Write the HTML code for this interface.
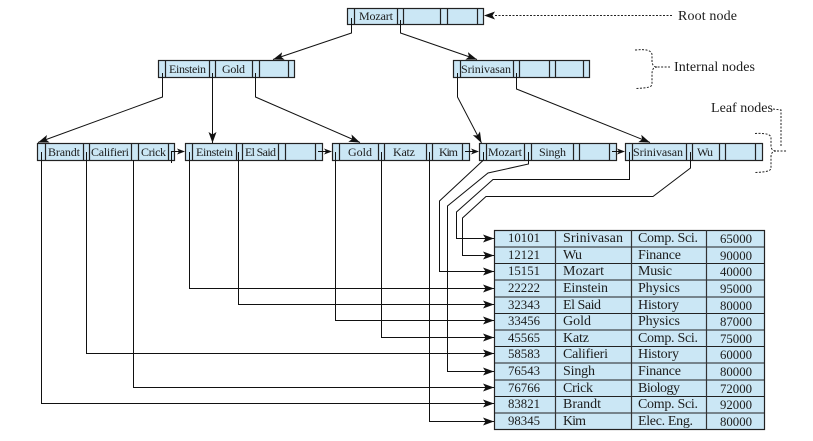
<!DOCTYPE html>
<html><head><meta charset="utf-8">
<style>
html,body{margin:0;padding:0;background:#fff}
svg{display:block}
text{font-family:"Liberation Serif",serif;fill:#1c1c1c}
.n rect{fill:#cbe7f5;stroke:#222;stroke-width:1.2}
.n text{font-size:12px}
.c{fill:none;stroke:#111;stroke-width:1}
.d{fill:none;stroke:#222;stroke-width:1;stroke-dasharray:2 1.5}
.t text{font-size:14px}
.t text.a{text-anchor:middle;font-size:12.8px}
.l text{font-size:14px}
</style></head><body>
<svg width="813" height="441" viewBox="0 0 813 441" xmlns="http://www.w3.org/2000/svg">
<defs>
<marker id="b" markerUnits="userSpaceOnUse" markerWidth="12" markerHeight="9" refX="11" refY="4" orient="auto"><path d="M0,0 L11,4 L0,8 L2.5,4z" fill="#111"/></marker>
</defs>

<!-- table -->
<g class="t">
<rect x="494.500" y="230.500" width="270" height="199" fill="#cbe7f5" stroke="#222" stroke-width="1.2"/>
<path d="M494.500 247H764.500M494.500 263.500H764.500M494.500 280H764.500M494.500 297H764.500M494.500 313.500H764.500M494.500 330H764.500M494.500 346.500H764.500M494.500 363H764.500M494.500 380H764.500M494.500 396.500H764.500M494.500 413H764.500" stroke="#222" fill="none"/>
<path d="M555.500 230V430M631.500 230V430M706.500 230V430" stroke="#333" fill="none" stroke-width="1.2"/>
<text class="a" x="524" y="242">10101</text><text x="563" y="242" textLength="60">Srinivasan</text><text x="638" y="242" textLength="60">Comp. Sci.</text><text class="a" x="736" y="243">65000</text>
<text class="a" x="524" y="259">12121</text><text x="563" y="259" textLength="19">Wu</text><text x="638" y="259" textLength="43">Finance</text><text class="a" x="736" y="260">90000</text>
<text class="a" x="524" y="275">15151</text><text x="563" y="275" textLength="41">Mozart</text><text x="638" y="275" textLength="34">Music</text><text class="a" x="736" y="276">40000</text>
<text class="a" x="524" y="292">22222</text><text x="563" y="292" textLength="45">Einstein</text><text x="638" y="292" textLength="42">Physics</text><text class="a" x="736" y="293">95000</text>
<text class="a" x="524" y="309">32343</text><text x="563" y="309" textLength="38">El Said</text><text x="638" y="309" textLength="41">History</text><text class="a" x="736" y="310">80000</text>
<text class="a" x="524" y="325">33456</text><text x="563" y="325" textLength="28">Gold</text><text x="638" y="325" textLength="42">Physics</text><text class="a" x="736" y="326">87000</text>
<text class="a" x="524" y="342">45565</text><text x="563" y="342" textLength="26">Katz</text><text x="638" y="342" textLength="60">Comp. Sci.</text><text class="a" x="736" y="343">75000</text>
<text class="a" x="524" y="358">58583</text><text x="563" y="358" textLength="45">Califieri</text><text x="638" y="358" textLength="41">History</text><text class="a" x="736" y="359">60000</text>
<text class="a" x="524" y="375">76543</text><text x="563" y="375" textLength="32">Singh</text><text x="638" y="375" textLength="43">Finance</text><text class="a" x="736" y="376">80000</text>
<text class="a" x="524" y="392">76766</text><text x="563" y="392" textLength="30">Crick</text><text x="638" y="392" textLength="42">Biology</text><text class="a" x="736" y="393">72000</text>
<text class="a" x="524" y="408">83821</text><text x="563" y="408" textLength="38">Brandt</text><text x="638" y="408" textLength="60">Comp. Sci.</text><text class="a" x="736" y="409">92000</text>
<text class="a" x="524" y="425">98345</text><text x="563" y="425" textLength="23">Kim</text><text x="638" y="425" textLength="55">Elec. Eng.</text><text class="a" x="736" y="426">80000</text>
</g>

<!-- nodes -->
<g class="n">
<rect x="347.500" y="8.500" width="136" height="16"/>
<path d="M354.500 8V24M397.500 8V24M403.500 8V24M440.500 8V24M447.500 8V24M477.500 8V24" stroke="#222" stroke-width="1.2" fill="none"/>
<text x="359" y="20" textLength="34">Mozart</text>

<rect x="158.500" y="60.500" width="136" height="17"/>
<path d="M165.500 60V77M209.500 60V77M215.500 60V77M252.500 60V77M259.500 60V77M288.500 60V77" stroke="#222" stroke-width="1.2" fill="none"/>
<text x="169" y="73" textLength="37">Einstein</text><text x="222" y="73" textLength="23">Gold</text>

<rect x="453.500" y="60.500" width="136" height="17"/>
<path d="M460.500 60V77M513.500 60V77M519.500 60V77M549.500 60V77M555.500 60V77M583.500 60V77" stroke="#222" stroke-width="1.2" fill="none"/>
<text x="461" y="73" textLength="50">Srinivasan</text>

<rect x="37.500" y="143.500" width="137" height="17"/>
<path d="M45.500 143V160M83.500 143V160M89.500 143V160M131.500 143V160M138.500 143V160M168.500 143V160" stroke="#222" stroke-width="1.2" fill="none"/>
<text x="48" y="156" textLength="32">Brandt</text><text x="91" y="156" textLength="38">Califieri</text><text x="141" y="156" textLength="25">Crick</text>

<rect x="185.500" y="143.500" width="137" height="17"/>
<path d="M192.500 143V160M236.500 143V160M242.500 143V160M278.500 143V160M285.500 143V160M315.500 143V160" stroke="#222" stroke-width="1.2" fill="none"/>
<text x="196" y="156" textLength="37">Einstein</text><text x="245" y="156" textLength="31">El Said</text>

<rect x="332.500" y="143.500" width="137" height="17"/>
<path d="M339.500 143V160M378.500 143V160M384.500 143V160M426.500 143V160M432.500 143V160M462.500 143V160" stroke="#222" stroke-width="1.2" fill="none"/>
<text x="348" y="156" textLength="24">Gold</text><text x="393" y="156" textLength="22">Katz</text><text x="439" y="156" textLength="19">Kim</text>

<rect x="479.500" y="143.500" width="137" height="17"/>
<path d="M486.500 143V160M524.500 143V160M531.500 143V160M573.500 143V160M579.500 143V160M609.500 143V160" stroke="#222" stroke-width="1.2" fill="none"/>
<text x="488" y="156" textLength="34">Mozart</text><text x="539" y="156" textLength="27">Singh</text>

<rect x="625.500" y="143.500" width="137" height="17"/>
<path d="M632.500 143V160M686.500 143V160M692.500 143V160M719.500 143V160M725.500 143V160M755.500 143V160" stroke="#222" stroke-width="1.2" fill="none"/>
<text x="633" y="156" textLength="50">Srinivasan</text><text x="697" y="156" textLength="16">Wu</text>
</g>

<!-- tree connectors -->
<path class="c" d="M351.500 18V33L273 59.500" marker-end="url(#b)"/>
<path class="c" d="M400.500 20V33L477 59.500" marker-end="url(#b)"/>
<path class="c" d="M162.500 73V97L38 142.500" marker-end="url(#b)"/>
<path class="c" d="M212.500 73V143" marker-end="url(#b)"/>
<path class="c" d="M255.500 73V97L360 142.500" marker-end="url(#b)"/>
<path class="c" d="M457.500 73V97L481.500 143" marker-end="url(#b)"/>
<path class="c" d="M516.500 73V89L650 142.500" marker-end="url(#b)"/>

<!-- sibling pointers -->
<path class="c" d="M171.500 163V151.500H180"/><polygon points="177,148.500 185,151.500 177,154.500 179,151.500" fill="#111"/>
<path class="c" d="M318 151.500H327"/><polygon points="324,148.500 332,151.500 324,154.500 326,151.500" fill="#111"/>
<path class="c" d="M465 151.500H474"/><polygon points="471,148.500 479,151.500 471,154.500 473,151.500" fill="#111"/>
<path class="c" d="M612 151.500H620"/><polygon points="617,148.500 625,151.500 617,154.500 619,151.500" fill="#111"/>

<!-- record pointers -->
<path class="c" d="M41.500 152V403.500H494" marker-end="url(#b)"/>
<path class="c" d="M86.500 152V353.500H494" marker-end="url(#b)"/>
<path class="c" d="M133.500 160V387.500H494" marker-end="url(#b)"/>
<path class="c" d="M189.500 152V288.500H494" marker-end="url(#b)"/>
<path class="c" d="M238.500 152V304.500H494" marker-end="url(#b)"/>
<path class="c" d="M335.500 152V320.500H494" marker-end="url(#b)"/>
<path class="c" d="M381.500 152V337.500H494" marker-end="url(#b)"/>
<path class="c" d="M429.500 152V421.500H494" marker-end="url(#b)"/>
<path class="c" d="M483.500 152V160L439.500 201V271.500H494" marker-end="url(#b)"/>
<path class="c" d="M528.500 152V164L488 173L447.500 206V371.500H494" marker-end="url(#b)"/>
<path class="c" d="M629.500 152V179.500H493L456.500 212V238.500H494" marker-end="url(#b)"/>
<path class="c" d="M690.500 152V168L653 196.500H486L462.500 218V255.500H494" marker-end="url(#b)"/>

<!-- labels -->
<g class="l">
<path class="d" d="M672 15.500H494"/><polygon points="495,11.500 484,15.500 495,19.500 492.500,15.500" fill="#111"/>
<text x="678" y="20" textLength="59">Root node</text>
<path class="d" d="M635 50C645 49 652 50 652 55V61C652 65 654 67 657 67H670M657 67C654 67 652 69 652 74V84C652 87 648 88 635 88.500"/>
<text x="674" y="71" textLength="81">Internal nodes</text>
<text x="711" y="112" textLength="62">Leaf nodes</text>
<path class="d" d="M773 109L781 110V146"/>
<path class="d" d="M755 133.500C765 133 771 134 771 138V146C771 149 773 151 776 151H787M776 151C773 151 771 153 771 157V168C771 171 766 172 755 172.500"/>
</g>
</svg>
</body></html>
